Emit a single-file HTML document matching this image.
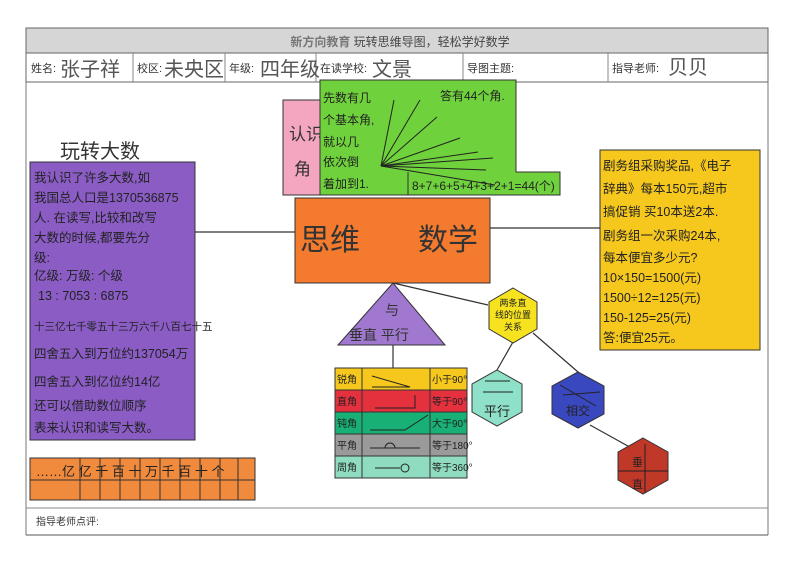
<!DOCTYPE html>
<html><head><meta charset="utf-8"><style>
body{margin:0;background:#fff;}
svg{display:block;font-family:"Liberation Sans","Noto Sans CJK SC",sans-serif;}
</style></head><body>
<svg width="800" height="565" viewBox="0 0 800 565" xmlns="http://www.w3.org/2000/svg">
<rect width="800" height="565" fill="#fff"/>
<rect x="26" y="28" width="742" height="25" fill="#d6d6d6" stroke="#666" stroke-width="1"/>
<text x="400" y="46" text-anchor="middle" font-size="12" fill="#444"><tspan font-weight="bold" fill="#777">新方向教育</tspan>  玩转思维导图，轻松学好数学</text>
<rect x="26" y="53" width="742" height="29" fill="#fff" stroke="#666"/>
<g stroke="#888"><line x1="133" y1="53" x2="133" y2="82"/><line x1="225" y1="53" x2="225" y2="82"/><line x1="316" y1="53" x2="316" y2="82"/><line x1="463" y1="53" x2="463" y2="82"/><line x1="608" y1="53" x2="608" y2="82"/></g>
<g font-size="11" fill="#333"><text x="31" y="72">姓名:</text><text x="137" y="72">校区:</text><text x="229" y="72">年级:</text><text x="320" y="72">在读学校:</text><text x="467" y="72">导图主题:</text><text x="612" y="72">指导老师:</text></g>
<g font-size="20" fill="#555"><text x="60" y="76">张子祥</text><text x="164" y="76">未央区</text><text x="260" y="76">四年级</text><text x="372" y="76">文景</text><text x="668" y="74">贝贝</text></g>
<line x1="26" y1="82" x2="26" y2="535" stroke="#777"/><line x1="768" y1="82" x2="768" y2="535" stroke="#777"/>
<line x1="26" y1="508" x2="768" y2="508" stroke="#888"/><line x1="26" y1="535" x2="768" y2="535" stroke="#555"/>
<text x="36" y="525" font-size="10" fill="#333">指导老师点评:</text>
<g stroke="#333" stroke-width="1.2"><line x1="195" y1="232" x2="296" y2="232"/><line x1="490" y1="228" x2="600" y2="228"/>
<line x1="393" y1="283" x2="488" y2="305"/><line x1="393" y1="345" x2="393" y2="368"/>
<line x1="513" y1="342" x2="497" y2="370"/><line x1="533" y1="333" x2="578" y2="372"/><line x1="590" y1="425" x2="635" y2="450"/></g>
<text x="60" y="158" font-size="20" fill="#333">玩转大数</text>
<rect x="30" y="162" width="165" height="278" fill="#8a5cc4" stroke="#333"/>
<g font-size="12.5" fill="#222">
<text x="34" y="182">我认识了许多大数,如</text><text x="34" y="202">我国总人口是1370536875</text><text x="34" y="222">人. 在读写,比较和改写</text><text x="34" y="242">大数的时候,都要先分</text><text x="34" y="262">级:</text><text x="34" y="280">亿级: 万级: 个级</text><text x="38" y="300">13 : 7053 : 6875</text><text x="34" y="330" font-size="10.5">十三亿七千零五十三万六千八百七十五</text><text x="34" y="358">四舍五入到万位约137054万</text><text x="34" y="386">四舍五入到亿位约14亿</text><text x="34" y="410">还可以借助数位顺序</text><text x="34" y="432">表来认识和读写大数。</text></g>
<rect x="30" y="458" width="225" height="42" fill="#f08a3c" stroke="#333"/>
<g stroke="#333"><line x1="30" y1="480" x2="255" y2="480"/><line x1="80" y1="458" x2="80" y2="500"/><line x1="100" y1="458" x2="100" y2="500"/><line x1="120" y1="458" x2="120" y2="500"/><line x1="140" y1="458" x2="140" y2="500"/><line x1="160" y1="458" x2="160" y2="500"/><line x1="180" y1="458" x2="180" y2="500"/><line x1="200" y1="458" x2="200" y2="500"/><line x1="220" y1="458" x2="220" y2="500"/><line x1="238" y1="458" x2="238" y2="500"/></g>
<text x="36" y="476" font-size="13" fill="#222">……亿 亿 千 百 十 万 千 百 十 个</text>
<rect x="283" y="100" width="40" height="95" fill="#f4a6c0" stroke="#333"/>
<text x="289" y="140" font-size="17" fill="#333">认识</text><text x="294" y="175" font-size="17" fill="#333">角</text>
<path d="M320 80 H516 V172 H560 V195 H320 Z" fill="#6fd23c" stroke="#333"/>
<line x1="408" y1="172" x2="408" y2="195" stroke="#333"/>
<g stroke="#222" stroke-width="1"><line x1="381" y1="166" x2="394" y2="100"/><line x1="381" y1="166" x2="420" y2="100"/><line x1="381" y1="166" x2="437" y2="117"/><line x1="381" y1="166" x2="460" y2="138"/><line x1="381" y1="166" x2="478" y2="152"/><line x1="381" y1="166" x2="486" y2="170"/><line x1="381" y1="166" x2="493" y2="158"/><line x1="381" y1="166" x2="495" y2="185"/></g>
<g font-size="12" fill="#222"><text x="323" y="102">先数有几</text><text x="323" y="124">个基本角,</text><text x="323" y="146">就以几</text><text x="323" y="166">依次倒</text><text x="323" y="188">着加到1.</text><text x="440" y="100">答有44个角.</text><text x="412" y="190">8+7+6+5+4+3+2+1=44(个)</text></g>
<rect x="295" y="198" width="195" height="85" fill="#f47a2e" stroke="#333"/>
<text x="300" y="250" font-size="30" fill="#333">思维</text><text x="418" y="250" font-size="30" fill="#333">数学</text>
<rect x="600" y="150" width="160" height="200" fill="#f6c81e" stroke="#333"/>
<g font-size="12.5" fill="#222"><text x="603" y="170">剧务组采购奖品,《电子</text><text x="603" y="193">辞典》每本150元,超市</text><text x="603" y="216">搞促销 买10本送2本.</text><text x="603" y="240">剧务组一次采购24本,</text><text x="603" y="262">每本便宜多少元?</text><text x="603" y="282">10×150=1500(元)</text>
<text x="603" y="302">1500÷12=125(元)</text><text x="603" y="322">150-125=25(元)</text><text x="603" y="342">答:便宜25元。</text></g>
<polygon points="393,283 338,345 445,345" fill="#a078d0" stroke="#333"/>
<text x="385" y="315" font-size="14" fill="#333">与</text><text x="349" y="340" font-size="14" fill="#333">垂直  平行</text>
<g stroke="#333">
<rect x="335" y="368" width="132" height="22" fill="#f6c81e"/><rect x="335" y="390" width="132" height="22" fill="#e5303e"/><rect x="335" y="412" width="132" height="22" fill="#18b074"/><rect x="335" y="434" width="132" height="22" fill="#9a9a9a"/><rect x="335" y="456" width="132" height="22" fill="#8fdcc0"/>
<line x1="362" y1="368" x2="362" y2="478"/><line x1="430" y1="368" x2="430" y2="478"/></g>
<g font-size="10" fill="#222"><text x="337" y="383">锐角</text><text x="337" y="405">直角</text><text x="337" y="427">钝角</text><text x="337" y="449">平角</text><text x="337" y="471">周角</text>
<text x="432" y="383">小于90°</text><text x="432" y="405">等于90°</text><text x="432" y="427">大于90°</text><text x="432" y="449">等于180°</text><text x="432" y="471">等于360°</text></g>
<g stroke="#222" fill="none"><path d="M372 376 L410 387 L372 387"/><path d="M375 408 H415 V395"/><path d="M370 430 H405 L428 415"/><path d="M370 448 H420"/><path d="M385 448 a5 5 0 0 1 10 0"/><path d="M375 468 H400"/><circle cx="405" cy="468" r="4"/></g>
<polygon points="513,288 537,302 537,329 513,343 489,329 489,302" fill="#f6e21e" stroke="#333"/>
<g font-size="9" fill="#222" text-anchor="middle"><text x="513" y="306">两条直</text><text x="513" y="318">线的位置</text><text x="513" y="330">关系</text></g>
<polygon points="497,370 522,384 522,412 497,426 472,412 472,384" fill="#8fe0c8" stroke="#333"/>
<line x1="485" y1="381" x2="510" y2="381" stroke="#222"/><line x1="483" y1="392" x2="513" y2="392" stroke="#222"/>
<text x="497" y="416" font-size="13" text-anchor="middle" fill="#222">平行</text>
<polygon points="578,372 604,386 604,414 578,428 552,414 552,386" fill="#3a48c0" stroke="#333"/>
<line x1="560" y1="385" x2="596" y2="406" stroke="#222"/><line x1="563" y1="395" x2="600" y2="392" stroke="#222"/>
<text x="578" y="415" font-size="12" text-anchor="middle" fill="#222">相交</text>
<polygon points="643,438 668,452 668,480 643,494 618,480 618,452" fill="#c03828" stroke="#333"/>
<line x1="618" y1="471" x2="668" y2="471" stroke="#222"/><line x1="645" y1="444" x2="645" y2="492" stroke="#222"/>
<text x="632" y="466" font-size="11" fill="#222">垂</text><text x="632" y="488" font-size="11" fill="#222">直</text>
</svg>
</body></html>
